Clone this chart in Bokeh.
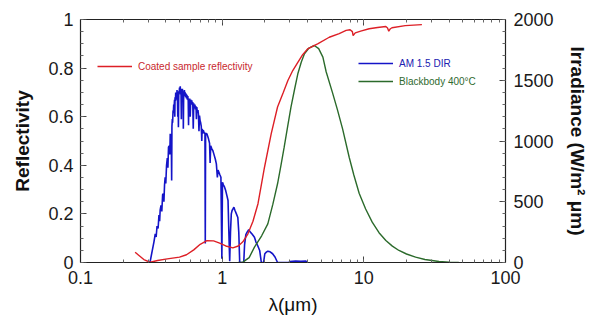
from bokeh.plotting import figure
from bokeh.models import (Range1d, LinearAxis, LogAxis, LogTicker, SingleIntervalTicker,
                          Legend, LegendItem)
from bokeh.embed import file_html
from bokeh.resources import INLINE

# ---- data ----
refl_wl = [0.243, 0.26, 0.28, 0.31, 0.35, 0.41, 0.50, 0.56, 0.63, 0.70, 0.78, 0.87, 0.96,
           1.06, 1.19, 1.30, 1.40, 1.52, 1.65, 1.79, 1.99, 2.22, 2.46, 2.70, 2.91, 3.15,
           3.42, 3.70, 4.01, 4.72, 5.7, 6.7, 7.5, 8.0, 8.3, 8.4, 8.7, 9.5, 10.9, 12.5,
           14.3, 14.7, 15.0, 15.4, 15.8, 19.6, 25.7]
refl_val = [0.042, 0.028, 0.012, 0.001, 0.008, 0.015, 0.022, 0.032, 0.052, 0.075, 0.09,
            0.089, 0.08, 0.068, 0.060, 0.068, 0.085, 0.118, 0.17, 0.242, 0.392, 0.53,
            0.64, 0.70, 0.749, 0.79, 0.824, 0.855, 0.879, 0.90, 0.927, 0.942, 0.955,
            0.958, 0.950, 0.934, 0.945, 0.952, 0.962, 0.967, 0.971, 0.965, 0.952, 0.962,
            0.966, 0.975, 0.979]

am_wl = [0.300, 0.310, 0.320, 0.330, 0.337, 0.342, 0.347, 0.353, 0.358, 0.362, 0.365,
         0.370, 0.375, 0.380, 0.385, 0.388, 0.392, 0.396, 0.400, 0.405, 0.410, 0.414,
         0.418, 0.423, 0.427, 0.430, 0.433, 0.437,
         0.440, 0.442, 0.445, 0.447, 0.450, 0.452, 0.455, 0.458, 0.461, 0.463, 0.465,
         0.468, 0.470, 0.473, 0.475, 0.478, 0.480, 0.483, 0.486, 0.489, 0.491, 0.494,
         0.497, 0.500, 0.503, 0.506, 0.509, 0.512, 0.515, 0.518, 0.521, 0.524, 0.527,
         0.530, 0.532, 0.535, 0.538, 0.541, 0.545, 0.548, 0.552, 0.556, 0.560, 0.564,
         0.568, 0.572, 0.576, 0.579, 0.582, 0.586, 0.590, 0.595, 0.600, 0.605, 0.610,
         0.615, 0.620, 0.625, 0.630, 0.636, 0.642, 0.648, 0.654, 0.658, 0.662, 0.668,
         0.675, 0.680, 0.686, 0.692, 0.698, 0.705, 0.712, 0.718, 0.722, 0.728, 0.735,
         0.745, 0.756, 0.760, 0.764,
         0.780, 0.800, 0.815, 0.822, 0.830, 0.845, 0.860, 0.875, 0.895, 0.910, 0.925,
         0.935, 0.950, 0.965, 0.980, 0.995, 1.005, 1.020, 1.040, 1.060, 1.080, 1.100,
         1.115, 1.130, 1.145, 1.160, 1.175, 1.190, 1.210, 1.230, 1.260, 1.290, 1.310,
         1.330, 1.420, 1.440, 1.470, 1.500, 1.540, 1.580, 1.620, 1.660, 1.690, 1.730,
         1.780, 1.840, 1.870, 1.890, 1.960, 2.000, 2.050, 2.100, 2.180, 2.270, 2.360,
         2.460, 2.950, 3.000, 3.300, 3.600, 3.900, 4.000]
am_irr = [0, 5, 90, 170, 236, 210, 300, 280, 390, 340, 430,
          470, 420, 560, 565, 500, 640, 702, 650, 800, 860, 780,
          949, 960, 890, 1059, 980, 1060,
          675, 1120, 1180, 1150, 1250, 1230, 1300, 1280, 1340, 1200, 1360,
          1330, 1400, 1360, 1380, 1340, 1420, 1380, 1200, 1400, 1114, 1410,
          1390, 1440, 1400, 1450, 1380, 1430, 1180, 1420, 1390, 1430, 1380,
          1410, 1100, 1400, 1370, 1420, 1380, 1400, 1360, 1390, 1350, 1380,
          1340, 1370, 1330, 1130, 1350, 1320, 1350, 1200, 1340, 1310, 1335,
          1300, 1320, 1100, 1310, 1280, 1300, 1260, 1285, 1180, 1280, 1240,
          1255, 1220, 1080, 1210, 1170, 1150, 1120, 1000, 1100, 1060, 1090,
          1070, 1060, 156, 1065,
          1059, 1020, 980, 820, 960, 935, 920, 890, 850, 812, 700,
          760, 740, 720, 702, 30, 660, 640, 620, 590, 550, 510,
          250, 10, 250, 400, 428, 440, 455, 430, 400, 370, 250,
          0, 0, 150, 230, 250, 269, 250, 236, 220, 208, 170,
          140, 99, 40, 0, 0, 72, 85, 93, 88, 72, 45,
          0, 0, 8, 12, 10, 12, 0]

bb_wl = [1.30, 1.40, 1.55, 1.69, 1.90, 2.10, 2.28, 2.46, 2.60, 2.74, 2.90, 3.06, 3.25,
         3.42, 3.62, 3.81, 4.10, 4.47, 4.80, 5.14, 5.42, 6.0, 6.5, 7.08, 7.89, 8.5,
         9.28, 10.3, 11.46, 12.8, 14.3, 15.9, 17.7, 20.0, 23.2, 27.0, 33.9, 40.0, 46.8]
bb_irr = [0, 3, 40, 126, 220, 318, 480, 648, 800, 949, 1120, 1278, 1430,
          1553, 1650, 1718, 1765, 1786, 1760, 1690, 1570, 1400, 1260, 1100, 864, 720,
          568, 440, 332, 245, 181, 135, 99, 70, 44, 25, 8, 3, 0]

labels = ["Coated sample reflectivity", "AM 1.5 DIR", "Blackbody 400\u00b0C"]

RED = "#dd1f26"
BLUE = "#1414c8"
GREEN = "#2b6a2b"
FONT = "Liberation Sans"

p = figure(width=590, height=323, x_axis_type="log", output_backend="svg",
           toolbar_location=None, x_range=Range1d(0.1, 100), y_range=Range1d(0, 1),
           min_border_left=80, min_border_right=83, min_border_top=19, min_border_bottom=61)
p.extra_y_ranges = {"irr": Range1d(0, 2000)}
p.xgrid.visible = False
p.ygrid.visible = False
p.outline_line_color = None
p.background_fill_color = "white"
p.border_fill_color = "white"

r_am = p.line(am_wl, am_irr, y_range_name="irr", line_color=BLUE, line_width=1.6)
r_bb = p.line(bb_wl, bb_irr, y_range_name="irr", line_color=GREEN, line_width=1.4)
r_ref = p.line(refl_wl, refl_val, line_color=RED, line_width=1.4)

def style(ax):
    ax.axis_line_color = "#222222"
    ax.axis_line_width = 1.2
    ax.major_tick_in = 6
    ax.major_tick_out = 0
    ax.minor_tick_in = 3
    ax.minor_tick_out = 0
    ax.major_tick_line_color = "#444444"
    ax.minor_tick_line_color = "#666666"
    ax.major_label_text_font = FONT
    ax.major_label_text_font_size = "18px"
    ax.major_label_text_color = "#1a1a1a"
    ax.axis_label_text_font = FONT
    ax.axis_label_text_font_size = "19px"
    ax.axis_label_text_color = "#111111"

# bottom x axis
xa = p.xaxis[0]
xa.ticker = LogTicker(num_minor_ticks=10)
xa.major_label_overrides = {0.1: "0.1", 1: "1", 10: "10", 100: "100"}
style(xa)
xa.axis_label = "\u03bb(\u03bcm)"
xa.axis_label_text_font_style = "normal"
xa.major_label_standoff = 8
xa.axis_label_standoff = 7

# left y axis
ya = p.yaxis[0]
ya.ticker = SingleIntervalTicker(interval=0.2, num_minor_ticks=4)
style(ya)
ya.axis_label = "Reflectivity"
ya.axis_label_text_font_style = "bold"
ya.major_label_standoff = 7
ya.axis_label_standoff = 12

# right y axis
ra = LinearAxis(y_range_name="irr", ticker=SingleIntervalTicker(interval=500, num_minor_ticks=5))
style(ra)
ra.axis_label = "Irradiance (W/m\u00b2 \u03bcm)"
ra.axis_label_text_font_style = "bold"
ra.major_label_standoff = 8
ra.axis_label_standoff = 10
p.add_layout(ra, "right")

# top mirror axis (labels hidden)
ta = LogAxis(ticker=LogTicker(num_minor_ticks=10))
style(ta)
ta.major_label_text_font_size = "2px"
ta.major_label_text_alpha = 0
ta.major_label_standoff = 0
p.add_layout(ta, "above")

def make_legend(item_label, renderer, color, loc):
    lg = Legend(items=[LegendItem(label=item_label, renderers=[renderer])],
                location=loc, orientation="vertical",
                border_line_color=None, background_fill_alpha=0,
                padding=0, margin=0, spacing=0,
                glyph_width=35, glyph_height=12, label_height=12,
                label_standoff=6,
                label_text_font=FONT, label_text_font_size="10px",
                label_text_color=color)
    p.add_layout(lg, "center")

make_legend(labels[0], r_ref, "#c8282e", (17, 190))
make_legend(labels[1], r_am, "#2020b0", (278, 193))
make_legend(labels[2], r_bb, "#2f6a2f", (278, 175))

open("out.html", "w").write(file_html(p, INLINE))
